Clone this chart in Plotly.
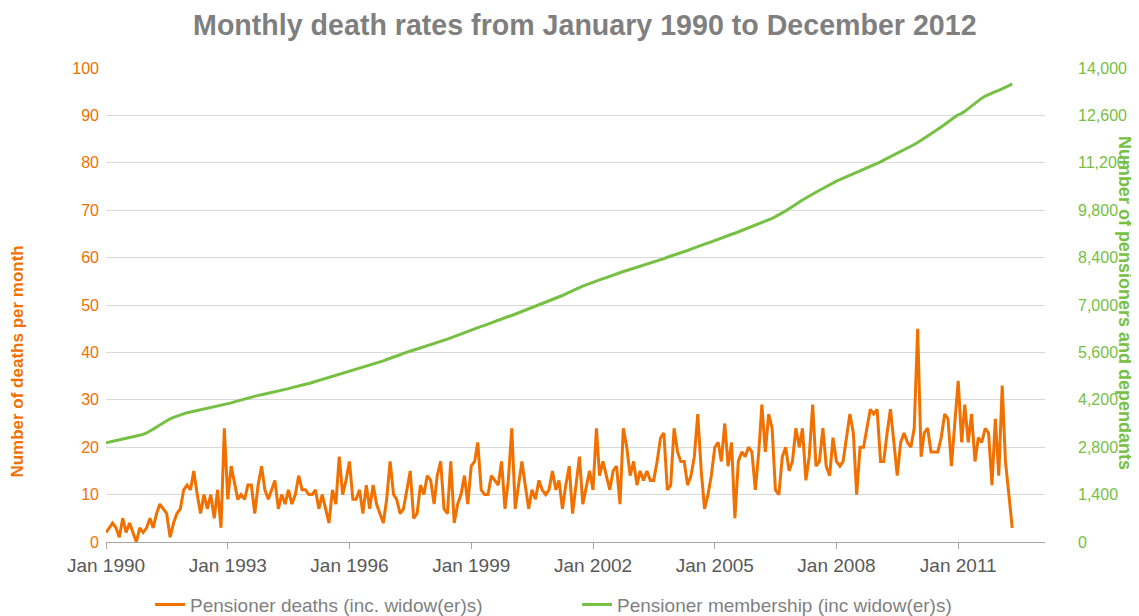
import pandas as pd
import plotly.graph_objects as go

# monthly values, Jan 1990 .. May 2012 (one row per year)
deaths = [
    2, 3, 4, 3, 1, 5, 2, 4, 2, 0, 3, 2,
    3, 5, 3, 6, 8, 7, 6, 1, 4, 6, 7, 11,
    12, 11, 15, 10, 6, 10, 7, 10, 5, 11, 3, 24,
    9, 16, 13, 9, 10, 9, 12, 12, 6, 12, 16, 11,
    9, 11, 13, 7, 10, 8, 11, 8, 10, 14, 11, 11,
    10, 10, 11, 7, 10, 7, 4, 11, 8, 18, 10, 13,
    17, 9, 9, 11, 6, 12, 7, 12, 8, 6, 4, 9,
    17, 10, 9, 6, 7, 11, 15, 5, 6, 12, 10, 14,
    13, 8, 14, 17, 7, 6, 17, 4, 8, 10, 14, 8,
    16, 17, 21, 11, 10, 10, 14, 13, 12, 17, 7, 13,
    24, 7, 12, 17, 12, 7, 11, 9, 13, 11, 10, 11,
    15, 11, 13, 7, 12, 16, 6, 12, 18, 8, 12, 15,
    11, 24, 14, 17, 14, 11, 15, 16, 8, 24, 20, 14,
    17, 12, 15, 13, 15, 13, 13, 17, 22, 23, 11, 12,
    24, 19, 17, 17, 12, 14, 18, 27, 15, 7, 10, 14,
    20, 21, 17, 25, 16, 21, 5, 17, 19, 18, 20, 19,
    11, 19, 29, 19, 27, 24, 11, 10, 18, 20, 15, 17,
    24, 20, 24, 13, 18, 29, 16, 17, 24, 16, 14, 22,
    17, 16, 17, 22, 27, 23, 10, 20, 20, 24, 28, 27,
    28, 17, 17, 23, 28, 21, 14, 21, 23, 21, 20, 24,
    45, 18, 23, 24, 19, 19, 19, 22, 27, 26, 16, 25,
    34, 21, 29, 21, 27, 17, 22, 21, 24, 23, 12, 26,
    14, 33, 17, 10, 3,
]

members = [
    2930, 2950, 2970, 2990, 3010, 3040, 3060, 3080, 3110, 3130, 3150, 3180,
    3220, 3270, 3330, 3400, 3460, 3520, 3580, 3640, 3680, 3720, 3750, 3790,
    3820, 3840, 3860, 3880, 3910, 3930, 3950, 3980, 4000, 4020, 4050, 4070,
    4090, 4110, 4140, 4170, 4200, 4230, 4250, 4280, 4300, 4330, 4350, 4370,
    4390, 4410, 4430, 4450, 4470, 4500, 4530, 4560, 4590, 4610, 4630, 4660,
    4680, 4710, 4740, 4770, 4800, 4830, 4870, 4900, 4930, 4960, 4990, 5010,
    5040, 5070, 5100, 5130, 5160, 5190, 5220, 5250, 5280, 5320, 5350, 5390,
    5420, 5460, 5500, 5530, 5570, 5610, 5640, 5670, 5700, 5730, 5760, 5790,
    5820, 5850, 5880, 5910, 5950, 5990, 6030, 6070, 6110, 6150, 6190, 6230,
    6260, 6300, 6330, 6370, 6400, 6440, 6480, 6510, 6550, 6590, 6620, 6660,
    6690, 6730, 6760, 6800, 6840, 6880, 6920, 6960, 7000, 7040, 7080, 7110,
    7150, 7190, 7240, 7280, 7330, 7370, 7420, 7460, 7510, 7560, 7600, 7640,
    7680, 7710, 7740, 7780, 7810, 7850, 7880, 7920, 7950, 7990, 8020, 8050,
    8080, 8110, 8150, 8180, 8210, 8240, 8280, 8310, 8340, 8370, 8410, 8440,
    8470, 8500, 8540, 8580, 8610, 8650, 8690, 8720, 8760, 8800, 8830, 8870,
    8900, 8940, 8980, 9010, 9050, 9090, 9120, 9160, 9200, 9240, 9280, 9310,
    9350, 9390, 9430, 9470, 9510, 9560, 9610, 9660, 9720, 9780, 9840, 9910,
    9980, 10040, 10100, 10160, 10220, 10270, 10330, 10390, 10440, 10500, 10560, 10610,
    10660, 10700, 10740, 10790, 10830, 10870, 10920, 10960, 11010, 11050, 11100, 11140,
    11180, 11230, 11280, 11330, 11380, 11430, 11480, 11540, 11590, 11640, 11690, 11740,
    11800, 11860, 11920, 11990, 12060, 12120, 12190, 12260, 12330, 12410, 12480, 12550,
    12620, 12660, 12720, 12800, 12880, 12960, 13040, 13110, 13170, 13220, 13260, 13300,
    13340, 13380, 13430, 13480, 13530,
]

months = pd.date_range("1990-01-01", periods=len(deaths), freq="MS")

tick_dates = ["1990-01-01", "1993-01-01", "1996-01-01", "1999-01-01",
              "2002-01-01", "2005-01-01", "2008-01-01", "2011-01-01"]
tick_labels = ["Jan 1990", "Jan 1993", "Jan 1996", "Jan 1999",
               "Jan 2002", "Jan 2005", "Jan 2008", "Jan 2011"]

orange = "#f07000"
green = "#76c043"
grey = "#7f7f7f"
font = "Liberation Sans, Arial, sans-serif"

fig = go.Figure()
fig.add_trace(go.Scatter(
    x=months, y=deaths,
    mode="lines",
    name="Pensioner deaths (inc. widow(er)s)",
    line=dict(color=orange, width=3),
))
fig.add_trace(go.Scatter(
    x=months, y=members,
    mode="lines",
    name="Pensioner membership (inc widow(er)s)",
    line=dict(color=green, width=3),
    yaxis="y2",
))

# page has an 8px body margin, so the figure is sized to the visible area
fig.update_layout(
    width=1131, height=608,
    margin=dict(l=98, r=94, t=60, b=74, autoexpand=False),
    paper_bgcolor="white",
    plot_bgcolor="white",
    font=dict(family=font, size=16, color=grey),
    title=dict(
        text="<b>Monthly death rates from January 1990 to December 2012</b>",
        x=0.510, xanchor="center", y=0.972, yanchor="middle",
        font=dict(size=28.6, color=grey),
    ),
    xaxis=dict(
        type="date",
        range=["1990-01-01", "2013-02-20"],
        tickvals=tick_dates, ticktext=tick_labels,
        ticks="outside", ticklen=6, tickcolor="#a6a6a6",
        showline=True, linecolor="#a6a6a6", linewidth=1,
        showgrid=False, zeroline=False,
        tickfont=dict(size=19, color="#595959"),
    ),
    yaxis=dict(
        range=[0, 100], dtick=10,
        showgrid=True, gridcolor="#d9d9d9", gridwidth=1,
        zeroline=False, showline=False,
        tickfont=dict(size=16, color=orange),
        ticklabelstandoff=6,
    ),
    yaxis2=dict(
        range=[0, 14000], dtick=1400,
        overlaying="y", side="right",
        showgrid=False, zeroline=False, showline=False,
        tickformat=",d",
        tickfont=dict(size=16, color=green),
        ticklabelstandoff=32,
    ),
    showlegend=True,
    legend=dict(
        orientation="h",
        xref="container", x=0.1256, xanchor="left",
        yref="container", y=0.05, yanchor="top",
        entrywidth=382, entrywidthmode="pixels",
        font=dict(size=19, color=grey),
        bgcolor="rgba(0,0,0,0)",
    ),
    annotations=[
        dict(
            text="<b>Number of deaths per month</b>",
            xref="paper", yref="paper",
            x=-0.094, y=0.38, xanchor="center", yanchor="middle",
            textangle=-90, showarrow=False,
            font=dict(size=17, color=orange),
        ),
        dict(
            text="<b>Number of pensioners and dependants</b>",
            xref="paper", yref="paper",
            x=1.086, y=0.505, xanchor="center", yanchor="middle",
            textangle=90, showarrow=False,
            font=dict(size=18, color=green),
        ),
    ],
)

fig.write_html("out.html")
